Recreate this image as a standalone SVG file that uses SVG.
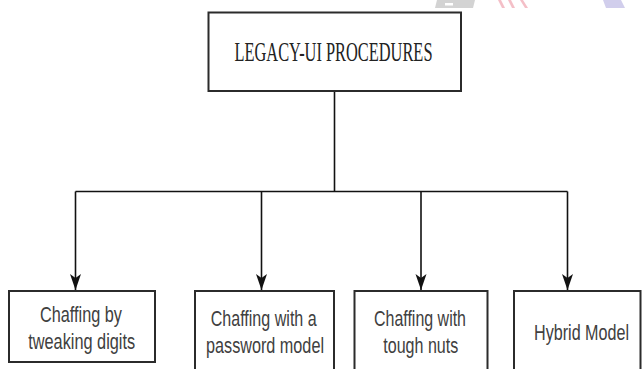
<svg xmlns="http://www.w3.org/2000/svg" width="642" height="369" viewBox="0 0 642 369">
  <style>
    .box { fill: #ffffff; stroke: #2b2b2b; stroke-width: 2; }
    .edge { fill: none; stroke: #111111; stroke-width: 1.6; }
    .lbl { font-family: "Liberation Sans", Arial, sans-serif; font-size: 22.5px; fill: #404040; text-anchor: middle; }
    .title { font-family: "Liberation Serif", "Times New Roman", serif; font-size: 27px; fill: #222222; text-anchor: middle; }
  </style>
  <defs>
    <marker id="arrow" viewBox="0 0 16 12" refX="16" refY="6" markerWidth="16" markerHeight="12" markerUnits="userSpaceOnUse" orient="auto">
      <path d="M16 6 L0 0.5 L4 6 L0 11.5 Z" fill="#111111"/>
    </marker>
  </defs>

  <rect width="642" height="369" fill="#ffffff"/>

  <!-- faint marks along the top edge -->
  <g id="top-marks" opacity="0.9">
    <path d="M437 0 L475 0 L473 8 L435 8 Z" fill="#cfcfcf"/>
    <rect x="445" y="3" width="8" height="2.5" fill="#ffffff"/>
    <path d="M498 0 L501 0 L505 8 L502 8 Z" fill="#f3b9c2"/>
    <path d="M508 0 L511 0 L515 8 L512 8 Z" fill="#f3b9c2"/>
    <path d="M520 0 L523 0 L528 8 L525 8 Z" fill="#f3b9c2"/>
    <path d="M603 0 L621 0 L625 8 L606 8 Z" fill="#cdc9ea"/>
  </g>

  <!-- connectors -->
  <g id="connectors">
    <path class="edge" d="M334.5 91 V191.5"/>
    <path class="edge" d="M75.5 191.5 H567.5"/>
    <path class="edge" d="M75.5 191.5 V290" marker-end="url(#arrow)"/>
    <path class="edge" d="M261.5 191.5 V290" marker-end="url(#arrow)"/>
    <path class="edge" d="M421 191.5 V290" marker-end="url(#arrow)"/>
    <path class="edge" d="M567.5 191.5 V290" marker-end="url(#arrow)"/>
  </g>

  <g id="root">
    <rect class="box" x="208.5" y="12.5" width="252.5" height="78.5"/>
    <text class="title" x="333.5" y="61" textLength="198" lengthAdjust="spacingAndGlyphs">LEGACY-UI PROCEDURES</text>
  </g>

  <g id="tweaking-digits">
    <rect class="box" x="9" y="291" width="146" height="71"/>
    <text class="lbl" x="81" y="321.5" textLength="82" lengthAdjust="spacingAndGlyphs">Chaffing by</text>
    <text class="lbl" x="81.7" y="349" textLength="107" lengthAdjust="spacingAndGlyphs">tweaking digits</text>
  </g>

  <g id="password-model">
    <rect class="box" x="195" y="291" width="139" height="90"/>
    <text class="lbl" x="263.7" y="325.5" textLength="106" lengthAdjust="spacingAndGlyphs">Chaffing with a</text>
    <text class="lbl" x="265" y="353" textLength="118" lengthAdjust="spacingAndGlyphs">password model</text>
  </g>

  <g id="tough-nuts">
    <rect class="box" x="354.5" y="291" width="133" height="90"/>
    <text class="lbl" x="420" y="325.5" textLength="92" lengthAdjust="spacingAndGlyphs">Chaffing with</text>
    <text class="lbl" x="420.8" y="353" textLength="75" lengthAdjust="spacingAndGlyphs">tough nuts</text>
  </g>

  <g id="hybrid-model">
    <rect class="box" x="514" y="291" width="126.5" height="90"/>
    <text class="lbl" transform="translate(581.5 339.5) scale(0.717 1)" x="0" y="0">Hybrid Model</text>
  </g>
</svg>
